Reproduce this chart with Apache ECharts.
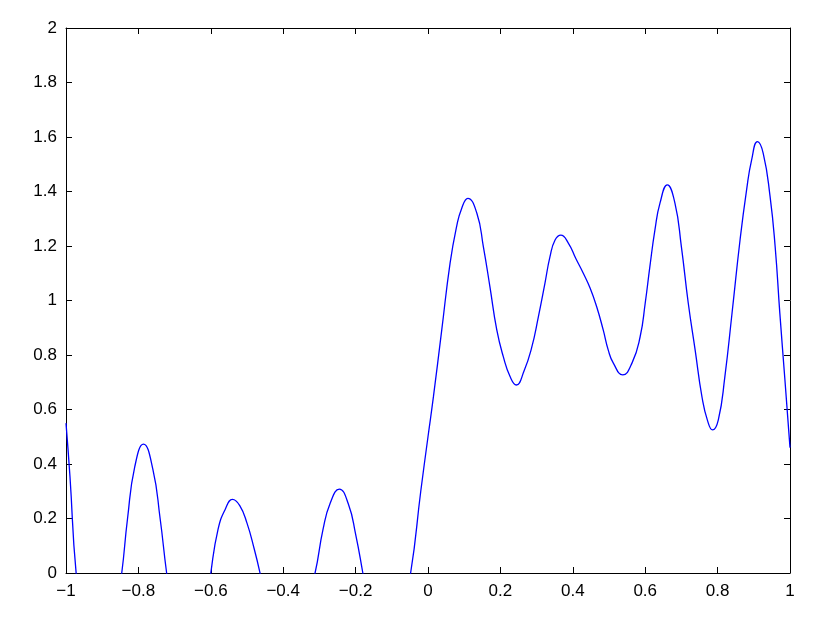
<!DOCTYPE html>
<html>
<head>
<meta charset="utf-8">
<script src="https://cdn.jsdelivr.net/npm/echarts@6/dist/echarts.min.js"></script>
<style>
  html, body { margin: 0; padding: 0; background: #fff; }
  #chart { width: 830px; height: 625px; }
</style>
</head>
<body>
<div id="chart"></div>
<script>
// sample points (values below 0 are clipped by the axis)
var xVals = [-1, -0.989, -0.972, -0.94, -0.91, -0.88, -0.846, -0.83, -0.81, -0.786, -0.76, -0.74, -0.722,
  -0.70, -0.66, -0.63, -0.60, -0.58, -0.56, -0.54, -0.52, -0.50, -0.48, -0.464, -0.44, -0.40, -0.36,
  -0.312, -0.29, -0.27, -0.245, -0.22, -0.20, -0.18, -0.16, -0.12, -0.08, -0.048, -0.02, 0,
  0.015, 0.038, 0.061, 0.079, 0.093, 0.11, 0.135, 0.153, 0.171, 0.19, 0.208, 0.227, 0.244, 0.265,
  0.286, 0.305, 0.323, 0.337, 0.351, 0.367, 0.388, 0.408, 0.429, 0.448, 0.466, 0.484, 0.498, 0.512,
  0.538, 0.564, 0.586, 0.600, 0.613, 0.627, 0.641, 0.661, 0.682, 0.70, 0.719, 0.738, 0.757, 0.772,
  0.786, 0.802, 0.82, 0.84, 0.862, 0.88, 0.894, 0.91, 0.926, 0.945, 0.959, 0.972, 0.986, 1];
var yVals = [0.55, 0.353, 0, -0.35, -0.45, -0.32, 0, 0.2, 0.39, 0.473, 0.38, 0.2, 0,
  -0.2, -0.38, -0.3, 0, 0.16, 0.234, 0.27, 0.247, 0.183, 0.088, 0, -0.15, -0.3, -0.25,
  0, 0.16, 0.257, 0.308, 0.253, 0.143, 0, -0.15, -0.3, -0.2, 0, 0.3, 0.5,
  0.647, 0.892, 1.137, 1.271, 1.338, 1.375, 1.32, 1.197, 1.051, 0.892, 0.794, 0.72, 0.69, 0.74,
  0.825, 0.941, 1.063, 1.161, 1.222, 1.24, 1.21, 1.155, 1.10, 1.045, 0.977, 0.892, 0.818, 0.77,
  0.727, 0.772, 0.867, 0.99, 1.125, 1.26, 1.358, 1.424, 1.358, 1.197, 0.99, 0.818, 0.645, 0.56,
  0.525, 0.562, 0.72, 0.955, 1.222, 1.405, 1.516, 1.583, 1.54, 1.381, 1.197, 0.952, 0.708, 0.46];

var chart = echarts.init(document.getElementById('chart'));

var points = xVals.map(function (x, i) { return [x, yVals[i]]; });

function fmt(v) {
  var s = String(Math.round(v * 10) / 10);
  return s.replace('-', '\u2212');
}

var font = { fontFamily: 'Liberation Sans, Arial, Helvetica, sans-serif', fontSize: 17, color: '#000' };

var tickStyle = { show: true, inside: true, length: 6, lineStyle: { color: '#000', width: 1 } };
var lineStyle = { show: true, onZero: false, lineStyle: { color: '#000', width: 1 } };

chart.setOption({
  backgroundColor: '#fff',
  animation: false,
  grid: { left: 66, right: 40, top: 28, bottom: 52 },
  xAxis: [
    {
      type: 'value', min: -1, max: 1, interval: 0.2,
      axisLine: lineStyle, axisTick: tickStyle, splitLine: { show: false },
      axisLabel: Object.assign({ margin: 10, formatter: fmt }, font)
    },
    {
      type: 'value', position: 'top', min: -1, max: 1, interval: 0.2,
      axisLine: lineStyle, axisTick: tickStyle, splitLine: { show: false },
      axisLabel: { show: false }
    }
  ],
  yAxis: [
    {
      type: 'value', min: 0, max: 2, interval: 0.2,
      axisLine: lineStyle, axisTick: tickStyle, splitLine: { show: false },
      axisLabel: Object.assign({ margin: 9, formatter: fmt }, font)
    },
    {
      type: 'value', position: 'right', min: 0, max: 2, interval: 0.2,
      axisLine: lineStyle, axisTick: tickStyle, splitLine: { show: false },
      axisLabel: { show: false }
    }
  ],
  series: [
    {
      type: 'line',
      data: points,
      xAxisIndex: 0,
      yAxisIndex: 0,
      smooth: 0.5,
      showSymbol: false,
      clip: true,
      lineStyle: { color: '#0000ff', width: 1.3 }
    }
  ]
});
</script>
</body>
</html>
